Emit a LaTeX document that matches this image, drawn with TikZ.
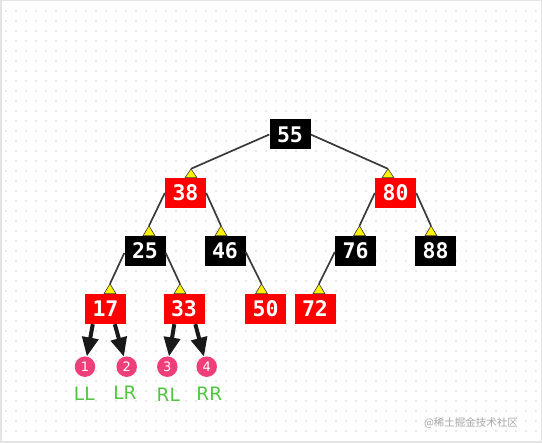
\documentclass[tikz,border=0pt]{standalone}
\usepackage{fontspec}
\newfontfamily\monofont{DejaVu Sans Mono}
\newfontfamily\labelfont{DejaVu Sans}
\newfontfamily\cjk{Noto Sans CJK SC}
\usetikzlibrary{arrows.meta,calc}
\definecolor{nodered}{HTML}{FF0000}
\definecolor{pinkc}{HTML}{EE3F7B}
\definecolor{greenc}{HTML}{4FC63E}
\definecolor{dotc}{HTML}{A0A0A0}
\definecolor{framec}{HTML}{E4E4E4}
\definecolor{edgec}{HTML}{3A3A3A}
\tikzset{
  rb/.style={fill=#1, text=white, minimum width=41pt, minimum height=30pt, inner sep=0pt,
    font=\monofont\bfseries\fontsize{21.5}{21.5}\selectfont},
  edge/.style={draw=edgec, line width=1.7pt},
  tri/.style={fill=yellow, draw=black!80, line width=0.6pt, line join=round},
  bigarrow/.style={-{Triangle[length=19pt,width=16pt]}, line width=4pt, draw=black!90},
  bub/.style={circle, fill=pinkc, minimum size=20.5pt, inner sep=0pt, text=white,
    font=\labelfont\fontsize{13}{13}\selectfont},
  lab/.style={text=greenc, inner sep=0pt, font=\labelfont\fontsize{18.5}{18.5}\selectfont},
}
\begin{document}
\begin{tikzpicture}[x=1pt,y=-1pt]
\useasboundingbox (0,0) rectangle (542,443);
\fill[white] (0,0) rectangle (542,443);
\draw[framec, line width=3pt] (0,0) rectangle (542,443);
\foreach \i in {0,...,53}{
  \foreach \j in {0,...,42}{
    \fill[dotc] ({6+10*\i},{11+10*\j}) circle (0.7pt);
  }
}
% nodes
\node[rb=black] (n55) at (290,134.5) {55};
\node[rb=nodered] (n38) at (185.5,193) {38};
\node[rb=nodered] (n80) at (395.5,193) {80};
\node[rb=black] (n25) at (145,251) {25};
\node[rb=black] (n46) at (225,251) {46};
\node[rb=black] (n76) at (355.5,251) {76};
\node[rb=black] (n88) at (435.5,251) {88};
\node[rb=nodered] (n17) at (105.5,309) {17};
\node[rb=nodered] (n33) at (184,309) {33};
\node[rb=nodered] (n50) at (265.5,309) {50};
\node[rb=nodered] (n72) at (315,309) {72};
% arrow apex coordinates
\coordinate (a38) at ($(n38.north)+(5.5,-9)$);
\coordinate (a80) at ($(n80.north)+(-7.5,-9)$);
\coordinate (a25) at ($(n25.north)+(4,-10)$);
\coordinate (a46) at ($(n46.north)+(-4,-10)$);
\coordinate (a76) at ($(n76.north)+(4,-10)$);
\coordinate (a88) at ($(n88.north)+(-4.5,-10)$);
\coordinate (a17) at ($(n17.north)+(4.5,-10)$);
\coordinate (a33) at ($(n33.north)+(-4,-10)$);
\coordinate (a50) at ($(n50.north)+(-4,-10)$);
\coordinate (a72) at ($(n72.north)+(4,-10)$);
% edges
\draw[edge] (n55.west) -- (a38);
\draw[edge] (n55.east) -- (a80);
\draw[edge] (n38.west) -- (a25);
\draw[edge] (n38.east) -- (a46);
\draw[edge] (n80.west) -- (a76);
\draw[edge] (n80.east) -- (a88);
\draw[edge] ($(n25.west)+(0,2)$) -- (a17);
\draw[edge] ($(n25.east)+(0,2)$) -- (a33);
\draw[edge] ($(n46.east)+(0,1)$) -- (a50);
\draw[edge] ($(n76.west)+(0,1)$) -- (a72);
% yellow triangles
\draw[tri] (a38) -- ++(-6,9) -- ++(12,0) -- cycle;
\draw[tri] (a80) -- ++(-6,9) -- ++(12,0) -- cycle;
\foreach \t in {a25,a46,a76,a88,a17,a33,a50,a72}{
  \draw[tri] (\t) -- ++(-6,10) -- ++(12,0) -- cycle;
}
% leaf bubbles
\node[bub] (c1) at (85,366.7) {1};
\node[bub] (c2) at (126.7,366.7) {2};
\node[bub] (c3) at (167.3,366.7) {3};
\node[bub] (c4) at (206.7,366.7) {4};
\draw[bigarrow] ($(n17.south west)+(8,0)$) -- (c1);
\draw[bigarrow] ($(n17.south west)+(30,0)$) -- (c2);
\draw[bigarrow] ($(n33.south west)+(11,0)$) -- (c3);
\draw[bigarrow] ($(n33.south west)+(32,0)$) -- (c4);
% labels
\node[lab] (l1) at (84.3,393.3) {LL};
\node[lab] (l2) at (125,392.7) {LR};
\node[lab] (l3) at (168.3,395) {RL};
\node[lab] (l4) at (209.3,394) {RR};
% watermark
\node[text=black!35, inner sep=0pt, font=\cjk\fontsize{10.5}{10.5}\selectfont] (wm) at (471,423) {@稀土掘金技术社区};
\end{tikzpicture}
\end{document}
